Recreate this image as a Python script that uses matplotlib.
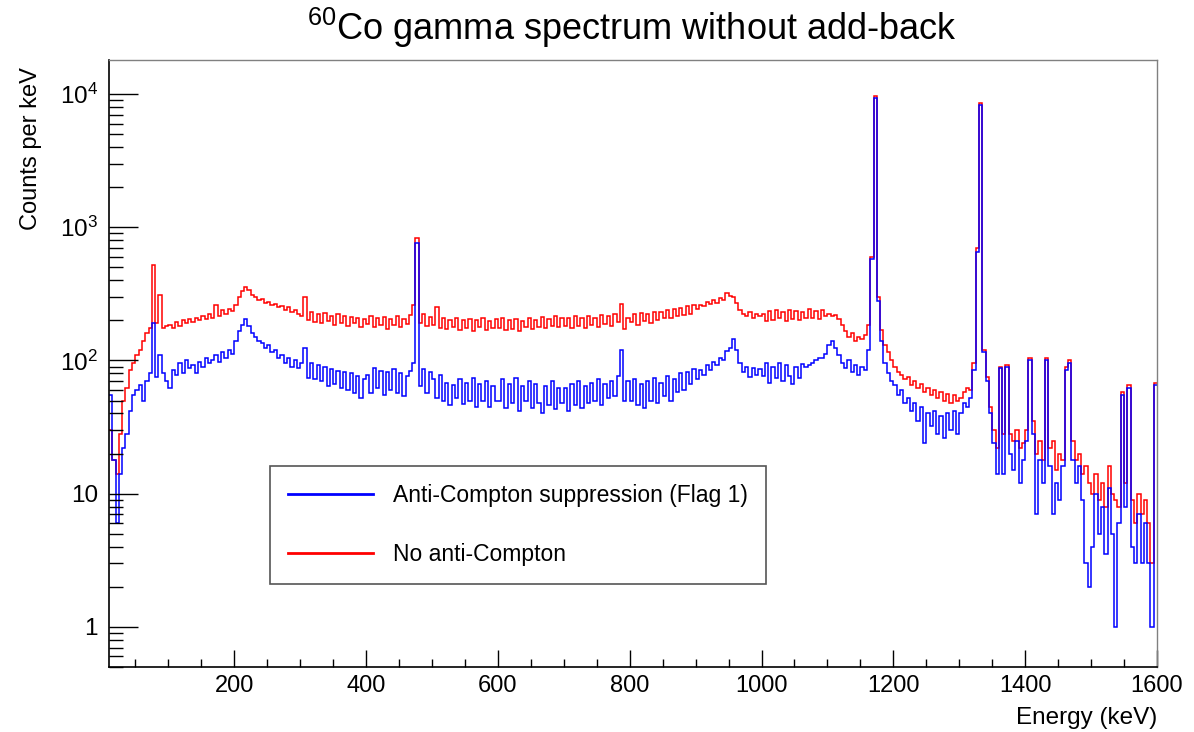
import numpy as np
import matplotlib
matplotlib.use("Agg")
import matplotlib.pyplot as plt
from matplotlib.lines import Line2D
from matplotlib.ticker import FixedLocator, LogLocator, MultipleLocator, FuncFormatter, NullFormatter

plt.rcParams['font.family'] = ['Liberation Sans', 'DejaVu Sans']
plt.rcParams['mathtext.fontset'] = 'custom'
plt.rcParams['mathtext.rm'] = 'Liberation Sans'
plt.rcParams['mathtext.it'] = 'Liberation Sans:italic'
plt.rcParams['mathtext.bf'] = 'Liberation Sans:bold'

# 5 keV bins from 10 to 1600 keV
energy_edges = np.arange(10, 1605, 5)

# counts per keV without anti-Compton (one row per 100 keV)
no_anti_compton = [
    30, 18, 14, 28, 50, 62, 85, 95, 110, 120, 140, 160, 175, 520, 190, 310, 175, 180,                  # 10-95
    185, 175, 195, 180, 200, 190, 205, 195, 210, 200, 215, 205, 225, 210, 262, 215, 240, 225, 245, 235,  # 100
    260, 300, 330, 355, 340, 310, 300, 285, 290, 270, 275, 260, 265, 250, 255, 240, 250, 230, 240, 225,  # 200
    215, 300, 200, 230, 195, 222, 190, 228, 198, 215, 185, 222, 192, 215, 182, 212, 190, 208, 178, 205,  # 300
    188, 215, 178, 208, 185, 212, 172, 205, 185, 215, 178, 205, 188, 220, 260, 830, 190, 225, 180, 212,  # 400
    185, 250, 175, 208, 172, 202, 178, 210, 168, 200, 175, 205, 165, 200, 178, 210, 168, 198, 175, 205,  # 500
    175, 208, 170, 200, 172, 205, 165, 198, 178, 210, 172, 202, 178, 212, 175, 205, 180, 215, 178, 210,  # 600
    180, 210, 176, 215, 182, 208, 174, 215, 185, 210, 178, 220, 188, 215, 180, 225, 195, 265, 172, 210,  # 700
    195, 222, 185, 228, 198, 225, 192, 232, 202, 230, 208, 238, 210, 242, 215, 246, 218, 256, 225, 262,  # 800
    245, 262, 255, 275, 265, 285, 272, 295, 285, 320, 305, 300, 270, 240, 225, 215, 230, 210, 225, 215,  # 900
    225, 198, 235, 202, 238, 208, 232, 198, 238, 205, 235, 200, 230, 208, 242, 210, 235, 205, 240, 215,  # 1000
    225, 215, 220, 205, 185, 165, 150, 160, 140, 150, 145, 155, 185, 600, 9700, 300, 170, 130, 115, 100,  # 1100
    90, 82, 78, 72, 75, 65, 70, 62, 66, 58, 62, 55, 60, 52, 58, 50, 56, 48, 55, 50,                      # 1200
    52, 58, 62, 60, 95, 700, 8600, 120, 75, 45, 30, 22, 90, 28, 92, 28, 25, 30, 22, 24,                  # 1300
    30, 105, 35, 20, 25, 18, 105, 22, 25, 15, 20, 18, 90, 100, 25, 18, 20, 14, 16, 12,                   # 1400
    10, 14, 9, 12, 8, 16, 10, 9, 8, 58, 12, 65, 9, 6, 10, 7, 9, 6, 3, 68,                                # 1500
]

# counts per keV with anti-Compton suppression (Flag 1)
anti_compton = [
    55, 18, 6, 14, 22, 28, 42, 55, 60, 65, 50, 70, 80, 190, 75, 110, 80, 70,                            # 10-95
    62, 85, 78, 95, 80, 100, 88, 92, 80, 98, 90, 105, 95, 100, 110, 98, 115, 105, 120, 112,              # 100
    140, 165, 185, 205, 180, 160, 150, 140, 135, 125, 130, 115, 120, 105, 110, 95, 105, 90, 100, 88,     # 200
    95, 125, 74, 95, 72, 92, 70, 90, 64, 86, 66, 84, 62, 82, 60, 80, 57, 76, 52, 72,                     # 300
    78, 57, 88, 62, 84, 55, 82, 60, 86, 57, 80, 54, 76, 84, 95, 760, 64, 86, 57, 82,                     # 400
    72, 52, 78, 50, 68, 46, 65, 52, 72, 47, 68, 50, 74, 45, 66, 50, 70, 45, 64, 50,                      # 500
    50, 72, 44, 66, 48, 74, 42, 64, 50, 70, 44, 66, 48, 40, 64, 46, 70, 43, 62, 48,                      # 600
    62, 42, 66, 46, 70, 44, 64, 48, 68, 50, 72, 46, 66, 52, 70, 54, 76, 120, 50, 70,                     # 700
    50, 72, 46, 66, 44, 70, 50, 74, 48, 68, 54, 76, 50, 72, 58, 80, 60, 82, 66, 86,                      # 800
    72, 85, 78, 92, 85, 98, 92, 105, 100, 118, 125, 145, 120, 95, 82, 90, 75, 88, 78, 86,                # 900
    76, 95, 68, 90, 74, 96, 70, 92, 76, 66, 90, 74, 94, 90, 92, 96, 100, 104, 104, 112,                  # 1000
    130, 140, 125, 110, 95, 88, 100, 82, 92, 78, 90, 85, 120, 580, 9300, 280, 140, 95, 80, 70,           # 1100
    65, 55, 60, 48, 52, 42, 48, 35, 45, 24, 40, 32, 42, 28, 38, 26, 40, 30, 42, 28,                      # 1200
    40, 48, 45, 52, 85, 650, 8300, 115, 70, 40, 24, 14, 88, 14, 90, 20, 15, 25, 12, 18,                  # 1300
    25, 100, 28, 7, 18, 12, 100, 16, 7, 12, 9, 16, 85, 95, 18, 12, 16, 9, 3, 2,                          # 1400
    4, 10, 5, 8, 3.5, 11, 5, 1, 6, 55, 8, 62, 4, 3, 7, 3, 6, 3, 1, 65,                                   # 1500
]

series_labels = ['Anti-Compton suppression (Flag 1)', 'No anti-Compton']
series_colors = ['#0000ff', '#ff0000']


# y tick labels in ROOT style: 1, 10, 10^2, ...
def decade_label(v, pos):
    if v == 1:
        return '1'
    if v == 10:
        return '10'
    return r'$10^{%d}$' % int(round(np.log10(v)))


fig = plt.figure(figsize=(11.94, 7.32), dpi=100)
ax = fig.add_axes([109 / 1194, 1 - 667 / 732, (1157 - 109) / 1194, (667 - 60) / 732])

# red first, blue drawn on top
ax.stairs(no_anti_compton, energy_edges, baseline=None, color=series_colors[1], lw=1.1)
ax.stairs(anti_compton, energy_edges, baseline=None, color=series_colors[0], lw=1.1)

ax.set_yscale('log')
ax.set_xlim(10, 1600)
ax.set_ylim(0.5, 18000)

ax.xaxis.set_major_locator(FixedLocator([200, 400, 600, 800, 1000, 1200, 1400, 1600]))
ax.xaxis.set_minor_locator(MultipleLocator(50))
ax.yaxis.set_major_locator(FixedLocator([1, 10, 100, 1000, 10000]))
ax.yaxis.set_minor_locator(LogLocator(base=10, subs=np.arange(2, 10), numticks=30))
ax.yaxis.set_major_formatter(FuncFormatter(decade_label))
ax.yaxis.set_minor_formatter(NullFormatter())

ax.tick_params(axis='y', which='major', direction='in', length=21, width=1, labelsize=17.5, pad=8)
ax.tick_params(axis='y', which='minor', direction='in', length=10, width=1)
ax.tick_params(axis='x', which='major', direction='in', length=12.5, width=1, labelsize=17, pad=6)
ax.tick_params(axis='x', which='minor', direction='in', length=6, width=1)
ax.tick_params(top=False, right=False, which='both')

for side in ['left', 'bottom']:
    ax.spines[side].set_color('black')
    ax.spines[side].set_linewidth(1.2)
for side in ['top', 'right']:
    ax.spines[side].set_color('#808080')
    ax.spines[side].set_linewidth(1.0)

handles = [Line2D([], [], color=c, lw=2) for c in series_colors]
leg = ax.legend(handles, series_labels, loc='upper left',
                bbox_to_anchor=(270 / 1194, 1 - 466 / 732), bbox_transform=fig.transFigure,
                fontsize=16.5, frameon=True, fancybox=False, framealpha=1,
                edgecolor='#555555', borderpad=0.8, handlelength=3.7,
                handletextpad=0.87, labelspacing=1.55, borderaxespad=0)
leg.get_frame().set_linewidth(1.2)

fig.text(632 / 1194, 1 - 28 / 732, r'$^{60}$Co gamma spectrum without add-back',
         fontsize=26, ha='center', va='center')
fig.text(31 / 1194, 1 - 149 / 732, 'Counts per keV', rotation=90,
         fontsize=17, ha='center', va='center')
fig.text(1157 / 1194, 1 - 718 / 732, 'Energy (keV)', fontsize=17.5, ha='right', va='center')

fig.savefig('out.png', dpi=100)
